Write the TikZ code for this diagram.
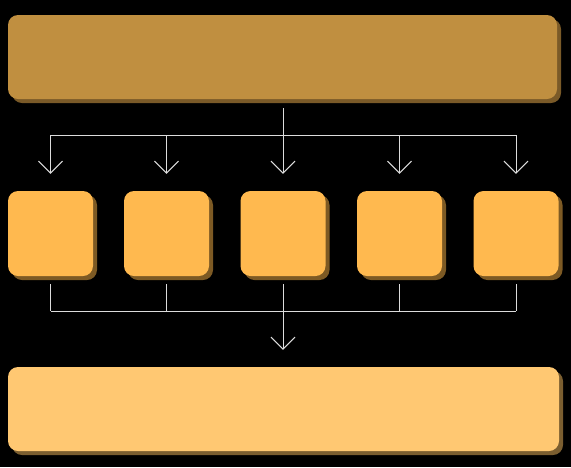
\documentclass[tikz,border=0pt]{standalone}
\usetikzlibrary{arrows.meta,shadows}
\definecolor{topfill}{HTML}{C08F40}
\definecolor{topshadow}{HTML}{7A5A28}
\definecolor{midfill}{HTML}{FFB94F}
\definecolor{midshadow}{HTML}{7D5A24}
\definecolor{botfill}{HTML}{FFC872}
\definecolor{botshadow}{HTML}{7B5E30}
\definecolor{linecol}{HTML}{DCDCDC}
\tikzset{
  card/.style={rectangle, rounded corners=10pt, inner sep=0pt, draw=none},
  topcard/.style={card, fill=topfill, minimum width=549pt, minimum height=84pt,
    general shadow={fill=topshadow, shadow xshift=4pt, shadow yshift=-4pt}},
  midcard/.style={card, fill=midfill, minimum width=85pt, minimum height=85pt,
    general shadow={fill=midshadow, shadow xshift=4pt, shadow yshift=-4pt}},
  botcard/.style={card, fill=botfill, minimum width=551pt, minimum height=84pt,
    general shadow={fill=botshadow, shadow xshift=4pt, shadow yshift=-4pt}},
  wire/.style={draw=linecol, line width=1pt},
  arr/.style={wire, -{Straight Barb[length=12pt, width=24pt, line width=1pt]}}
}
\begin{document}
\begin{tikzpicture}[x=1pt, y=-1pt]
  \fill[black] (0,0) rectangle (571,467);
  \useasboundingbox (0,0) rectangle (571,467);

  \node[topcard] (top) at (282.5,57) {};
  \node[midcard] (b1) at (50.5,233.5) {};
  \node[midcard] (b2) at (166.5,233.5) {};
  \node[midcard] (b3) at (283,233.5) {};
  \node[midcard] (b4) at (399.5,233.5) {};
  \node[midcard] (b5) at (516,233.5) {};
  \node[botcard] (bot) at (283.5,409) {};

  \coordinate (bus1) at (0,135);
  \coordinate (bus2) at (0,311);

  % distribution from top
  \draw[wire] ([yshift=-9pt]top.south -| b3) -- (b3 |- bus1);
  \draw[wire] (b1 |- bus1) -- (b5 |- bus1);
  \foreach \b in {b1,b2,b3,b4,b5}{
    \draw[arr] (\b |- bus1) -- ([yshift=17pt]\b.north);
  }

  % collection to bottom
  \foreach \b in {b1,b2,b4,b5}{
    \draw[wire] ([yshift=-8pt]\b.south) -- (\b |- bus2);
  }
  \draw[wire] (b1 |- bus2) -- (b5 |- bus2);
  \draw[arr] ([yshift=-8pt]b3.south) -- ([yshift=17pt]bot.north -| b3);
\end{tikzpicture}
\end{document}
